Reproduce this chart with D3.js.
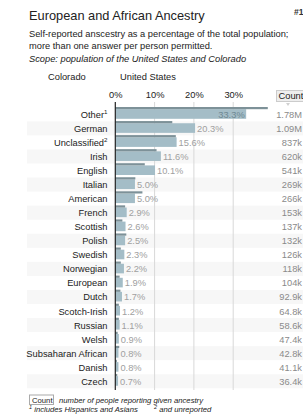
<!DOCTYPE html>
<html><head><meta charset="utf-8">
<script src="https://cdn.jsdelivr.net/npm/d3@7"></script>
<style>
html,body{margin:0;padding:0;background:#fff;}
svg{display:block;font-family:"Liberation Sans",Arial,sans-serif;}
</style></head>
<body>
<script>
const categories = ["Other","German","Unclassified","Irish","English","Italian","American","French","Scottish","Polish","Swedish","Norwegian","European","Dutch","Scotch-Irish","Russian","Welsh","Subsaharan African","Danish","Czech"];
const superscripts = ["1","","2","","","","","","","","","","","","","","","","",""];
const coloradoPct = [33.3,20.3,15.6,11.6,10.1,5.0,5.0,2.9,2.6,2.5,2.3,2.2,1.9,1.7,1.2,1.1,0.9,0.8,0.8,0.7];
const usPct = [38.8,14.5,15.4,10.5,7.5,5.1,6.9,2.5,1.8,2.8,1.4,1.4,1.1,1.3,0.9,0.9,0.6,1.0,0.4,0.5];
const counts = ["1.78M","1.09M","837k","620k","541k","269k","266k","153k","137k","132k","126k","118k","104k","92.9k","64.8k","58.6k","47.4k","42.8k","41.1k","36.4k"];
const ticks = [0,10,20,30];
const legendLabels = ["Colorado","United States"];

const W = 303, H = 415;
const svg = d3.select("body").append("svg").attr("width", W).attr("height", H);

const x = d3.scaleLinear().domain([0, 10]).range([115.3, 154.6]);
const y = d3.scaleBand().domain(categories).range([106.8, 106.8 + 14.05 * categories.length]).padding(0);
const fs = 9.3;
const ffs = 7.7;

// Title
svg.append("text").attr("x", 29).attr("y", 19.5).attr("font-size", 12.8).attr("fill", "#222").text("European and African Ancestry");
svg.append("text").attr("x", 294).attr("y", 15).attr("font-size", 8.5).attr("font-weight", "bold").attr("fill", "#333").text("#1");
const sub = ["Self-reported anscestry as a percentage of the total population;", "more than one answer per person permitted."];
sub.forEach((s, i) => svg.append("text").attr("x", 29).attr("y", 36.6 + i * 12.4).attr("font-size", fs).attr("fill", "#222").text(s));
svg.append("text").attr("x", 29).attr("y", 61.6).attr("font-size", fs).attr("font-style", "italic").attr("fill", "#222").text("Scope: population of the United States and Colorado");

// Legend
svg.selectAll("text.leg").data(legendLabels).join("text").attr("class", "leg")
  .attr("x", (d, i) => [48, 120][i]).attr("y", 79.5).attr("font-size", fs).attr("fill", "#222").text(d => d);

// stripes
svg.selectAll("rect.stripe").data(categories.filter((d, i) => i % 2 === 1)).join("rect").attr("class", "stripe")
  .attr("x", 27).attr("width", W - 27).attr("y", d => y(d) + 0.5).attr("height", y.bandwidth())
  .attr("fill", "#f7f7f7");

// gridlines
const yTop = 102, yBot = 390;
svg.selectAll("line.grid").data(ticks.slice(1)).join("line").attr("class", "grid")
  .attr("x1", d => x(d)).attr("x2", d => x(d)).attr("y1", yTop).attr("y2", yBot)
  .attr("stroke", "#d8d8d8").attr("stroke-width", 1);

// axis tick labels
const axis = d3.axisTop(x).tickValues(ticks).tickSize(0).tickFormat(d => d + "%");
const gAxis = svg.append("g").attr("transform", "translate(0,100.5)").call(axis);
gAxis.select(".domain").remove();
gAxis.selectAll("text").attr("font-size", fs).attr("fill", "#222").attr("font-family", "Liberation Sans, Arial, sans-serif").attr("dy", 0);

// rows
const rows = svg.selectAll("g.row").data(categories).join("g").attr("class", "row")
  .attr("transform", d => `translate(0,${y(d)})`);

// light (Colorado) bars
rows.append("rect").attr("x", x(0)).attr("y", 2.4)
  .attr("width", (d, i) => x(coloradoPct[i]) - x(0)).attr("height", 9.6).attr("fill", "#a4bdc7");
// dark (US) bars
rows.append("rect").attr("x", x(0)).attr("y", 0.2)
  .attr("width", (d, i) => x(usPct[i]) - x(0)).attr("height", 2.2).attr("fill", "#7d9198");

// labels
const lab = rows.append("text").attr("x", 107.5).attr("y", 11).attr("text-anchor", "end")
  .attr("font-size", fs).attr("fill", "#222");
lab.append("tspan").text(d => d);
lab.append("tspan").attr("dy", -3.8).attr("font-size", 6.2).text((d, i) => superscripts[i]);

// value labels
rows.append("text")
  .attr("x", (d, i) => coloradoPct[i] > 30 ? x(coloradoPct[i]) - 1.5 : x(coloradoPct[i]) + 2)
  .attr("y", 11).attr("text-anchor", (d, i) => coloradoPct[i] > 30 ? "end" : "start")
  .attr("font-size", fs).attr("fill", (d, i) => coloradoPct[i] > 30 ? "#6f8993" : "#a0a0a0")
  .text((d, i) => coloradoPct[i].toFixed(1) + "%");

// counts
rows.append("text").attr("x", 302).attr("y", 11).attr("text-anchor", "end")
  .attr("font-size", fs).attr("fill", "#8a8a8a").text((d, i) => counts[i]);

// zero axis line
svg.append("line").attr("x1", x(0)).attr("x2", x(0)).attr("y1", yTop).attr("y2", yBot)
  .attr("stroke", "#222").attr("stroke-width", 1.2);

// Count header
svg.append("rect").attr("x", 276.5).attr("y", 90.5).attr("width", 30).attr("height", 11)
  .attr("fill", "#eeeeee").attr("stroke", "#cccccc");
svg.append("text").attr("x", 278.5).attr("y", 99.3).attr("font-size", fs).attr("fill", "#222").text("Count");
svg.append("path").attr("d", "M286,103 L290,103 L288,106 Z").attr("fill", "#d0d0d0");

// footer
svg.append("rect").attr("x", 29.5).attr("y", 395).attr("width", 24).attr("height", 9.5)
  .attr("fill", "#fff").attr("stroke", "#aaa");
svg.append("text").attr("x", 32).attr("y", 402.6).attr("font-size", ffs).attr("fill", "#222").text("Count");
svg.append("text").attr("x", 59).attr("y", 402.6).attr("font-size", ffs).attr("font-style", "italic").attr("fill", "#222").text("number of people reporting given ancestry");
const f1 = svg.append("text").attr("x", 29).attr("y", 412.2).attr("font-size", ffs).attr("font-style", "italic").attr("fill", "#222");
f1.append("tspan").attr("font-size", 5.5).attr("dy", -3).text("1");
f1.append("tspan").attr("dy", 3).text(" includes Hispanics and Asians");
const f2 = svg.append("text").attr("x", 154).attr("y", 412.2).attr("font-size", ffs).attr("font-style", "italic").attr("fill", "#222");
f2.append("tspan").attr("font-size", 5.5).attr("dy", -3).text("2");
f2.append("tspan").attr("dy", 3).text(" and unreported");
</script>
</body></html>
